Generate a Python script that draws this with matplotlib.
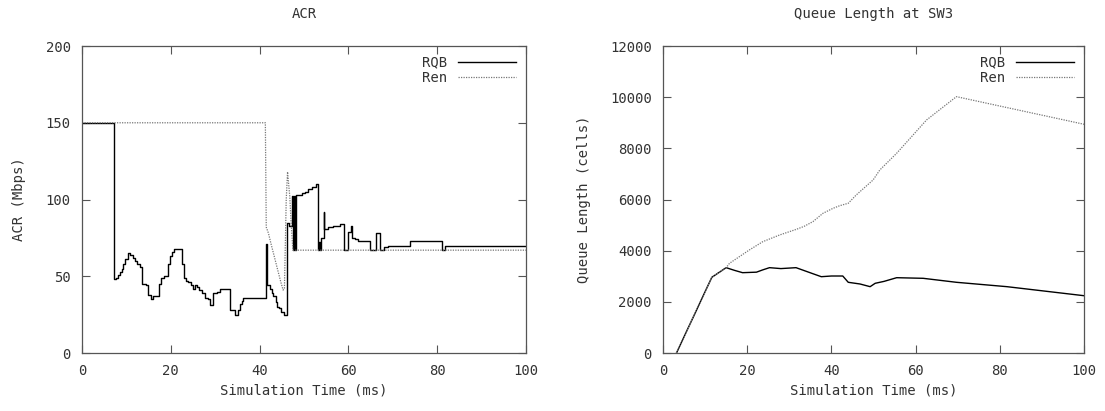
import matplotlib
matplotlib.use("Agg")
import matplotlib.pyplot as plt

# ACR data (step values)
rqb_acr_t = [0, 7.1, 7.6, 8.0, 8.5, 8.9, 9.3, 9.7, 10.3, 10.9, 11.4, 11.9, 12.4, 13.1,
             13.6, 14.4, 14.9, 15.5, 16.1, 17.4, 17.9, 18.5, 19.3, 19.8, 20.3, 20.8,
             22.6, 23.0, 23.5, 23.9, 24.5, 25.0, 25.4, 26.0, 26.4, 27.0, 27.8, 28.4,
             28.8, 29.4, 30.3, 31.1, 33.3, 34.4, 35.2, 35.6, 36.0, 36.3, 41.4, 41.7,
             42.3, 42.7, 43.1, 43.7, 44.0, 44.3, 44.8, 45.5, 46.2, 46.6, 47.2, 47.6,
             47.8, 48.0, 48.1, 48.3, 49.0, 49.5, 50.2, 51.0, 51.8, 52.6, 53.2, 53.3,
             53.6, 53.8, 54.4, 54.6, 55.5, 56.5, 58.0, 58.9, 60.0, 60.6, 60.8, 61.5,
             62.2, 64.9, 66.2, 67.1, 68.0, 69.0, 73.9, 81.0, 81.8, 100]
rqb_acr_v = [150, 48, 49, 51, 53, 55, 58, 61, 65, 64, 62, 60, 58, 56,
             45, 44, 38, 35, 37, 45, 49, 50, 58, 63, 66, 68,
             58, 49, 47, 46, 44, 42, 44, 43, 41, 39, 36, 35,
             31, 39, 40, 42, 28, 25, 28, 32, 34, 36, 71, 44,
             42, 39, 37, 33, 30, 29, 27, 25, 85, 83, 102, 67,
             102, 67, 102, 103, 103, 104, 105, 107, 108, 110, 67, 72,
             67, 75, 92, 81, 82, 83, 84, 67, 79, 83, 75, 74,
             73, 67, 78, 67, 69, 70, 73, 67, 70, 70]

ren_acr_t = [0, 41.3, 41.5, 42.0, 42.5, 43.3, 44.0, 44.8, 45.3, 45.6, 46.0, 46.3,
             46.8, 47.1, 47.5, 100]
ren_acr_v = [150, 150, 82, 78, 72, 63, 55, 46, 41, 42, 100, 118, 102, 85, 67, 67]

# Queue length data
rqb_q_t = [3.2, 11.6, 15.0, 17.0, 18.9, 22.2, 23.7, 25.3, 28.0, 31.6, 35.6, 37.6,
           40.0, 42.7, 44.0, 46.8, 49.2, 50.4, 52.5, 55.5, 61.8, 69.7, 81.7, 100]
rqb_q_v = [0, 2960, 3336, 3230, 3140, 3160, 3250, 3336, 3300, 3336, 3100, 2983,
           3010, 3010, 2764, 2698, 2593, 2725, 2800, 2944, 2920, 2764, 2593, 2240]

ren_q_t = [3.2, 11.6, 15.0, 15.8, 20.5, 23.7, 27.7, 31.7, 33.5, 35.6, 38.0, 40.4,
           42.0, 44.0, 45.9, 49.9, 51.5, 55.5, 62.6, 69.7, 100]
ren_q_v = [0, 2960, 3336, 3507, 4027, 4352, 4614, 4836, 4950, 5134, 5462, 5657,
           5760, 5853, 6178, 6764, 7155, 7808, 9110, 10021, 8942]

plt.rcParams["font.family"] = "DejaVu Sans Mono"
plt.rcParams["font.size"] = 10
txt = "#333333"

fig = plt.figure(figsize=(11.05, 4.11), dpi=100)
ax1 = fig.add_axes([0.0742, 0.1411, 0.4018, 0.7469])
ax2 = fig.add_axes([0.6000, 0.1411, 0.3810, 0.7469])

ax1.plot(rqb_acr_t, rqb_acr_v, drawstyle="steps-post", color="black", lw=1.0, label="RQB")
ax1.plot(ren_acr_t, ren_acr_v, color="#777777", lw=0.9, linestyle=(0, (1, 1)), label="Ren")
ax1.set_xlim(0, 100)
ax1.set_ylim(0, 200)
ax1.set_xticks([0, 20, 40, 60, 80, 100])
ax1.set_yticks([0, 50, 100, 150, 200])
ax1.set_title("ACR", fontsize=10, color=txt, pad=20)
ax1.set_xlabel("Simulation Time (ms)", color=txt, labelpad=4)
ax1.set_ylabel("ACR (Mbps)", color=txt, labelpad=14)

ax2.plot(rqb_q_t, rqb_q_v, color="black", lw=1.0, label="RQB")
ax2.plot(ren_q_t, ren_q_v, color="#777777", lw=0.9, linestyle=(0, (1, 1)), label="Ren")
ax2.set_xlim(0, 100)
ax2.set_ylim(0, 12000)
ax2.set_xticks([0, 20, 40, 60, 80, 100])
ax2.set_yticks([0, 2000, 4000, 6000, 8000, 10000, 12000])
ax2.set_title("Queue Length at SW3", fontsize=10, color=txt, pad=20)
ax2.set_xlabel("Simulation Time (ms)", color=txt, labelpad=4)
ax2.set_ylabel("Queue Length (cells)", color=txt, labelpad=14)

for ax in (ax1, ax2):
    ax.tick_params(direction="in", length=6, width=0.8, top=True, right=True,
                   colors="#555555", labelcolor=txt, labelsize=10, pad=8)
    for s in ax.spines.values():
        s.set_color("#555555")
        s.set_linewidth(0.9)
    ax.legend(loc="upper right", frameon=False, markerfirst=False, handlelength=4.2,
              handletextpad=0.8, labelspacing=0.1, borderaxespad=0.3,
              fontsize=10, labelcolor=txt)

fig.savefig("out.png", dpi=100)
